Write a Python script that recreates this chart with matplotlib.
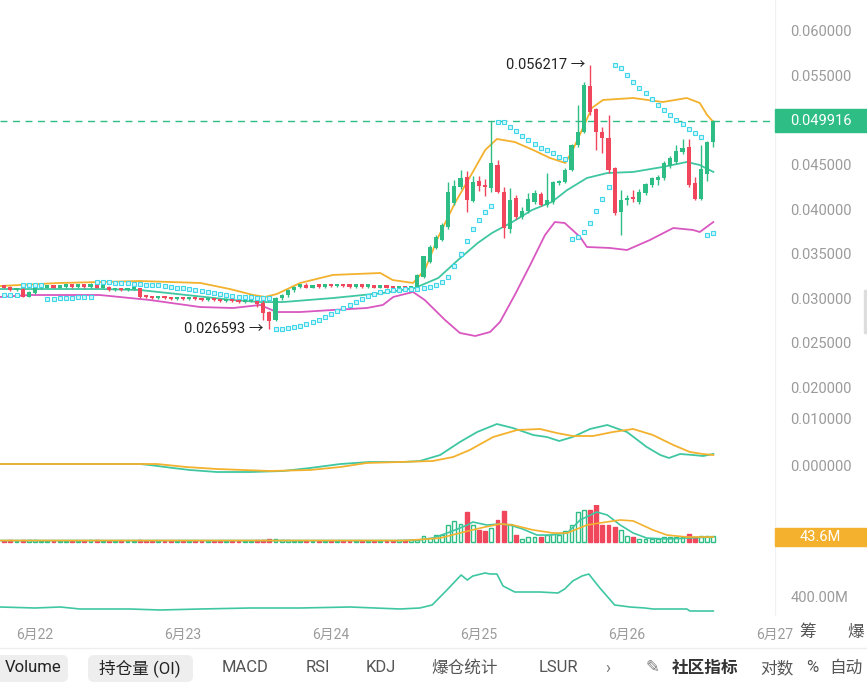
import numpy as np
import matplotlib.pyplot as plt
from matplotlib import transforms
from matplotlib.patches import Rectangle, FancyBboxPatch

plt.rcParams['font.family'] = ['Roboto', 'Noto Sans CJK SC', 'DejaVu Sans']

GREEN = '#2ebd85'
RED = '#f0475c'
TEAL = '#3fc7a2'
ORANGE = '#f3b12e'
MAGENTA = '#d957c0'
CYAN = '#3fd6ea'
GREY = '#9b9b9b'

# hourly candles, hour 0 = 6月22 00:00
hours = np.arange(-5, 111)

opens = [
    .0313, .0313, .0309, .0310, .0302,
    .0306, .0311, .0312, .0313, .0312, .0313, .0314, .0313, .0314, .0313,
    .0316, .0312, .0313, .0309, .0310, .0309, .0310, .0311, .0302, .0301,
    .0300, .0301, .0300, .0299, .0300, .0299, .0300, .0299, .0298, .0299,
    .0298, .0297, .0298, .0297, .0296, .0297, .0298, .0295, .0285, .0276,
    .0300, .0304, .0309, .0313, .0314, .0312, .0314, .0313, .0315, .0314,
    .0315, .0314, .0313, .0314, .0313, .0314, .0312, .0313, .0312, .0311,
    .0312, .0311, .0311, .0324, .0341, .0357, .0365, .0380, .0407, .0425,
    .0436, .0409, .0432, .0427, .0424, .0450, .0419, .0378, .0413, .0391,
    .0398, .0408, .0417, .0405, .0408, .0429, .0430, .0444, .0472, .0487,
    .0538, .0513, .0487, .0480, .0446, .0397, .0410, .0414, .0408, .0418,
    .0427, .0433, .0435, .0448, .0453, .0464, .0470, .0429, .0411, .0440,
    .0475]
closes = [
    .0312, .0309, .0310, .0302, .0307,
    .0311, .0312, .0313, .0312, .0313, .0314, .0313, .0314, .0313, .0316,
    .0312, .0313, .0309, .0310, .0309, .0310, .0311, .0302, .0301, .0300,
    .0301, .0300, .0299, .0300, .0299, .0300, .0299, .0298, .0299, .0298,
    .0297, .0298, .0297, .0296, .0297, .0298, .0294, .0284, .0275, .0300,
    .0304, .0309, .0313, .0314, .0312, .0314, .0313, .0315, .0314, .0315,
    .0314, .0313, .0314, .0313, .0314, .0312, .0313, .0312, .0311, .0312,
    .0311, .0312, .0326, .0347, .0358, .0369, .0382, .0419, .0426, .0435,
    .0410, .0431, .0426, .0425, .0452, .0419, .0379, .0410, .0391, .0398,
    .0412, .0418, .0405, .0410, .0430, .0431, .0444, .0472, .0487, .0539,
    .0509, .0487, .0480, .0444, .0396, .0410, .0413, .0411, .0419, .0428,
    .0435, .0436, .0452, .0458, .0465, .0469, .0427, .0411, .0445, .0475,
    .049916]
highs = [
    .0314, .0314, .0311, .0311, .0308,
    .0312, .0313, .0314, .0314, .0314, .0315, .0315, .0315, .0315, .0317,
    .0317, .0314, .0314, .0311, .0311, .0311, .0312, .0312, .0303, .0302,
    .0302, .0302, .0301, .0301, .0301, .0301, .0301, .0300, .0300, .0300,
    .0299, .0299, .0299, .0298, .0298, .0299, .0299, .0298, .0286, .0301,
    .0305, .0310, .0314, .0316, .0317, .0315, .0315, .0316, .0316, .0316,
    .0316, .0315, .0315, .0315, .0315, .0315, .0314, .0314, .0313, .0313,
    .0313, .0313, .0327, .0348, .0360, .0371, .0384, .0431, .0433, .0444,
    .0443, .0437, .0437, .0434, .0499, .0455, .0425, .0424, .0416, .0403,
    .0418, .0421, .0419, .0441, .0432, .0433, .0446, .0473, .0517, .0543,
    .056217, .0514, .0492, .0506, .0447, .0421, .0416, .0421, .0423, .0429,
    .0436, .0438, .0454, .0460, .0472, .0479, .0479, .0436, .0472, .0477,
    .0500]
lows = [
    .0311, .0308, .0308, .0301, .0301,
    .0305, .0310, .0311, .0311, .0311, .0312, .0312, .0312, .0312, .0312,
    .0311, .0311, .0308, .0308, .0308, .0308, .0309, .0300, .0300, .0299,
    .0299, .0299, .0298, .0298, .0298, .0298, .0298, .0297, .0297, .0297,
    .0296, .0296, .0296, .0295, .0295, .0296, .0290, .0276, .026593, .0274,
    .0298, .0302, .0307, .0311, .0311, .0311, .0312, .0312, .0313, .0313,
    .0313, .0312, .0312, .0312, .0312, .0311, .0311, .0311, .0310, .0310,
    .0310, .0310, .0310, .0323, .0340, .0355, .0364, .0378, .0405, .0423,
    .0397, .0408, .0420, .0415, .0419, .0418, .0368, .0373, .0389, .0389,
    .0396, .0406, .0404, .0403, .0406, .0427, .0429, .0443, .0470, .0485,
    .0506, .0467, .0463, .0441, .0393, .0371, .0405, .0408, .0406, .0416,
    .0425, .0427, .0433, .0446, .0451, .0462, .0425, .0410, .0410, .0432,
    .0470]

# parabolic SAR dots, one per candle
sar = [
    .03037, .03037, .03037, .03149, .03149,
    .03149, .03149, .02992, .02992, .03003, .03003, .03003, .03015, .03015, .03015,
    .03183, .03183, .03183, .03172, .03172, .03172, .03160, .03160, .03149, .03149,
    .03149, .03138, .03127, .03116, .03116, .03104, .03093, .03082, .03071, .03059,
    .03048, .03037, .03026, .03015, .03015, .03015, .03003, .03003, .03003, .02655,
    .02655, .02667, .02678, .02689, .02712, .02734, .02756, .02790, .02824, .02857,
    .02891, .02925, .02958, .02992, .03026, .03048, .03071, .03082, .03093, .03093,
    .03104, .03104, .03104, .03116, .03127, .03149, .03183, .03239, .03362, .03497,
    .03643, .03778, .03879, .03969, .04036, .04979, .04979, .04923, .04878, .04822,
    .04777, .04732, .04687, .04664, .04631, .04586, .04563, .03666, .03688, .03744,
    .03845, .03980, .04114, .04249, .05618, .05585, .05506, .05428, .05360, .05304,
    .05237, .05169, .05113, .05057, .05001, .04956, .04900, .04855, .04810, .03710,
    .03733]

# bollinger bands
bb_up_h = [-5.7, 4.0, 17.0, 26.8, 31.6, 35.4, 37.3, 39.2, 43.0, 48.3, 56.0, 58.0,
           61.3, 63.2, 65.4, 68.1, 70.9, 73.0, 74.9, 77.8, 80.8, 83.5, 86.0, 87.2,
           88.7, 90.3, 92.1, 97.0, 101.8, 105.7, 107.8, 109.0, 110.0]
bb_up = [.03138, .03172, .03194, .03172, .03104, .03037, .03015, .03048, .03172,
         .03262, .03284, .03205, .03172, .03318, .03688, .04070, .04406, .04664,
         .04788, .04754, .04664, .04575, .04519, .04664, .04889, .05136, .05226,
         .05248, .05203, .05248, .05192, .05057, .04979]
bb_mid_h = [-5.7, 10.5, 17.0, 32.1, 36.5, 40.2, 48.3, 56.4, 61.6, 65.4, 68.6, 71.8,
            74.1, 77.4, 80.6, 83.8, 86.3, 89.5, 92.8, 97.0, 101.8, 105.7, 107.8, 110.0]
bb_mid = [.03104, .03104, .03093, .02981, .02958, .02958, .03003, .03059, .03116,
          .03228, .03430, .03621, .03733, .03856, .03991, .04081, .04215, .04350,
          .04406, .04418, .04474, .04530, .04496, .04418]
bb_low_h = [-5.7, -0.8, 10.5, 18.6, 26.8, 32.1, 36.5, 39.2, 43.0, 48.3, 53.8, 56.4,
            58.1, 61.3, 63.2, 66.5, 68.9, 71.4, 73.8, 75.4, 77.8, 80.3, 82.7, 84.3,
            85.9, 88.4, 89.5, 93.2, 96.0, 99.7, 103.5, 106.7, 107.8, 110.0]
bb_low = [.03015, .03037, .03037, .02981, .02902, .02891, .02925, .02846, .02846,
          .02869, .02891, .02925, .03015, .03071, .02981, .02756, .02611, .02577,
          .02622, .02734, .03037, .03374, .03710, .03856, .03845, .03688, .03576,
          .03565, .03542, .03654, .03789, .03767, .03744, .03856]

# MACD lines
dif_h = [-5.7, 17.0, 18.6, 22.4, 25.1, 29.5, 34.9, 40.2, 44.6, 49.5, 54.3, 59.7,
         62.4, 65.7, 68.9, 71.7, 74.9, 77.5, 80.8, 83.0, 85.0, 87.2, 90.0, 92.8,
         96.0, 99.2, 101.4, 102.8, 104.6, 106.7, 108.3, 110.0]
dif = [.00021, .00021, 0.0, -.00064, -.00106, -.00149, -.00149, -.00128, -.00064,
       .00021, .00064, .00064, .00085, .00213, .00489, .00702, .00872, .00787,
       .00638, .00596, .00511, .00596, .00766, .00851, .00702, .00383, .00213,
       .00149, .00234, .00213, .00191, .00234]
dea_h = [-5.7, 19.8, 24.6, 29.5, 38.1, 44.6, 49.5, 53.8, 59.2, 64.5, 67.8, 70.5,
         74.3, 78.2, 81.9, 84.6, 87.2, 90.5, 93.7, 97.0, 100.2, 103.5, 106.2, 108.3, 110.0]
dea = [.00021, .00021, -.00043, -.00085, -.00128, -.00106, -.00043, .00043, .00064,
       .00085, .00170, .00319, .00596, .00745, .00766, .00681, .00617, .00617,
       .00702, .00766, .00638, .00426, .00277, .00234, .00213]

# volume (M), one per candle
volume = [10, 12, 8, 18, 14,
          12, 9, 8, 10, 8, 9, 10, 8, 9, 12,
          14, 9, 11, 8, 9, 8, 9, 20, 10, 9,
          8, 9, 8, 9, 8, 10, 8, 9, 10, 8,
          9, 8, 9, 10, 8, 9, 12, 18, 26, 22,
          15, 12, 10, 9, 10, 8, 9, 8, 9, 8,
          9, 8, 10, 8, 9, 8, 9, 10, 9, 12,
          16, 16, 20, 53, 32, 62, 62, 155, 193, 165, 273, 155, 109, 100, 130,
          202, 286, 165, 62, 25, 47, 41, 41, 62, 69, 62, 100, 155, 273, 295,
          295, 366, 155, 155, 134, 109, 53, 47, 25, 25, 25, 25, 41, 41, 41,
          41, 72, 47, 56, 53, 53]
vol_ma1_h = [-5.7, 59.0, 62.0, 64.5, 67.3, 70.1, 71.0, 73.3, 75.4, 77.0, 79.1, 81.4,
             83.5, 86.3, 88.4, 91.1, 92.8, 94.9, 97.0, 99.2, 102.5, 105.7, 110.0]
vol_ma1 = [11, 11, 15, 34, 90, 155, 183, 155, 165, 155, 118, 62, 62, 81, 202, 276,
           248, 155, 81, 34, 25, 34, 44]
vol_ma2_h = [-5.7, 60.0, 65.7, 68.9, 72.2, 75.4, 77.5, 80.8, 84.0, 86.3, 89.5, 91.6,
             94.9, 97.0, 100.2, 102.5, 105.7, 110.0]
vol_ma2 = [11, 11, 34, 81, 127, 165, 155, 109, 81, 81, 155, 174, 202, 193, 109, 62,
           44, 43.6]

# open interest (M)
oi_h = [-5.7, 0, 4.1, 7.3, 15.4, 20.3, 26.8, 34.9, 43.0, 51.1, 59.2, 62.4, 64.4,
        66.8, 69.1, 70.1, 71.0, 73.0, 73.8, 74.9, 75.9, 77.8, 81.9, 84.8, 85.9,
        87.2, 88.7, 89.8, 91.6, 94.0, 96.5, 98.9, 100.2, 105.7, 106.2, 110.0]
oi = [350, 345, 350, 340, 340, 335, 340, 345, 345, 350, 340, 345, 360, 435, 510,
      485, 505, 520, 515, 515, 455, 425, 425, 420, 440, 480, 505, 515, 445, 360,
      350, 345, 340, 340, 330, 330]

date_ticks = [0, 24, 48, 72, 96, 120]
date_labels = ['6月22', '6月23', '6月24', '6月25', '6月26', '6月27']
price_ticks = [0.020, 0.025, 0.030, 0.035, 0.040, 0.045, 0.050, 0.055, 0.060]

W, H = 867, 687
fig = plt.figure(figsize=(W / 100, H / 100), dpi=100, facecolor='white')


def panel(top, bottom):
    ax = fig.add_axes([0, 1 - bottom / H, 775 / W, (bottom - top) / H])
    for s in ax.spines.values():
        s.set_visible(False)
    ax.set_xlim(-5.676, 120)
    ax.yaxis.tick_right()
    ax.tick_params(length=0, labelcolor=GREY, labelsize=10.5)
    ax.tick_params(axis='y', pad=11)
    ax.set_xticks([])
    return ax


ax = panel(0, 400)
ax_macd = panel(400, 505)
ax_vol = panel(505, 547)
ax_oi = panel(547, 615)

# --- price panel ---
o, c, hi, lo = map(np.array, (opens, closes, highs, lows))
col = np.where(c >= o, GREEN, RED)
ax.vlines(hours, lo, hi, colors=col, linewidth=1, zorder=3)
ax.bar(hours, np.maximum(np.abs(c - o), 0.00025), bottom=np.minimum(o, c),
       width=0.7, color=col, linewidth=0, zorder=3)
ax.plot(bb_up_h, bb_up, color=ORANGE, lw=1.3, zorder=2)
ax.plot(bb_mid_h, bb_mid, color=TEAL, lw=1.3, zorder=2)
ax.plot(bb_low_h, bb_low, color=MAGENTA, lw=1.3, zorder=2)
ax.plot(hours, sar, 's', ms=2.7, mfc='#d2f6fa', mec=CYAN, mew=0.8, zorder=4)
ax.axhline(closes[-1], color=GREEN, lw=1, dashes=(5, 4), zorder=1)
ax.set_ylim(0.018586, 0.063479)
ax.set_yticks(price_ticks)
ax.set_yticklabels([f'{v:.6f}' for v in price_ticks])

ax.text(89.3, max(highs), f'{max(highs):.6f} →', ha='right', va='center',
        fontsize=10.5, color='#222222')
ax.text(37.0, min(lows), f'{min(lows):.6f} →', ha='right', va='center',
        fontsize=10.5, color='#222222')

tr = transforms.blended_transform_factory(ax.transAxes, ax.transData)
ax.add_patch(Rectangle((1.0, closes[-1] - 0.00129), 92 / 775, 0.00258,
                       transform=tr, color=GREEN, clip_on=False, zorder=5))
ax.text(1 + 15 / 775, closes[-1], f'{closes[-1]:.6f}', transform=tr, color='white',
        va='center', fontsize=10.5, clip_on=False, zorder=6)

# --- MACD panel ---
ax_macd.plot(dif_h, dif, color=TEAL, lw=1.3)
ax_macd.plot(dea_h, dea, color=ORANGE, lw=1.3)
ax_macd.set_ylim(-0.00851, 0.01383)
ax_macd.set_yticks([0.0, 0.01])
ax_macd.set_yticklabels(['0.000000', '0.010000'])

# --- volume panel ---
vol_col = np.where(c >= o, GREEN, RED)
vol_face = np.where(c >= o, 'white', RED)
ax_vol.bar(hours, volume, width=0.62, color=vol_face, edgecolor=vol_col, linewidth=1)
ax_vol.plot(vol_ma1_h, vol_ma1, color=TEAL, lw=1.2)
ax_vol.plot(vol_ma2_h, vol_ma2, color=ORANGE, lw=1.2)
ax_vol.set_ylim(-49, 341)
ax_vol.set_yticks([])
trv = transforms.blended_transform_factory(ax_vol.transAxes, ax_vol.transData)
ax_vol.add_patch(Rectangle((1.0, vol_ma2[-1] - 84), 92 / 775, 167, transform=trv,
                           color=ORANGE, clip_on=False, zorder=5))
ax_vol.text(1 + 25 / 775, vol_ma2[-1], f'{vol_ma2[-1]:.1f}M', transform=trv,
            color='white', va='center', fontsize=10.5, clip_on=False, zorder=6)

# --- open interest panel ---
ax_oi.plot(oi_h, oi, color=TEAL, lw=1.2)
ax_oi.set_ylim(310, 650)
ax_oi.set_yticks([400])
ax_oi.set_yticklabels(['400.00M'])
ax_oi.set_xticks(date_ticks)
ax_oi.set_xticklabels(date_labels)
ax_oi.tick_params(axis='x', pad=9, labelsize=10)

# --- decorations: separators and toolbar ---
deco = fig.add_axes([0, 0, 1, 1], zorder=-1)
deco.set_xlim(0, W)
deco.set_ylim(H, 0)
deco.axis('off')
deco.plot([775, 775], [0, 615], color='#f1f1f1', lw=1)
deco.plot([0, W], [648, 648], color='#eeeeee', lw=1)
deco.add_patch(Rectangle((864, 290), 3, 43, color='#dddddd'))
deco.text(808, 632, '筹', ha='center', va='center', fontsize=12, color='#555555')
deco.text(856, 632, '爆', ha='center', va='center', fontsize=12, color='#555555')

for x0, x1 in [(-8, 68), (88, 193)]:
    deco.add_patch(FancyBboxPatch((x0, 655), x1 - x0, 27,
                                  boxstyle='round,pad=0,rounding_size=6',
                                  fc='#eeeeee', ec='none'))
tools = [('Volume', 33, '#222222', 'normal'), ('持仓量 (OI)', 140, '#222222', 'normal'),
         ('MACD', 245, '#555555', 'normal'), ('RSI', 318, '#555555', 'normal'),
         ('KDJ', 381, '#555555', 'normal'), ('爆仓统计', 465, '#555555', 'normal'),
         ('LSUR', 558, '#555555', 'normal'), ('›', 608, '#777777', 'normal'),
         ('✎', 652, '#777777', 'normal'), ('社区指标', 705, '#333333', 'bold'),
         ('对数', 777, '#555555', 'normal'), ('%', 812, '#555555', 'normal'),
         ('自动', 846, '#555555', 'normal')]
for label, x, color, weight in tools:
    deco.text(x, 668, label, ha='center', va='center', fontsize=12, color=color,
              fontweight=weight)

fig.savefig('out.png', dpi=100, facecolor='white')
